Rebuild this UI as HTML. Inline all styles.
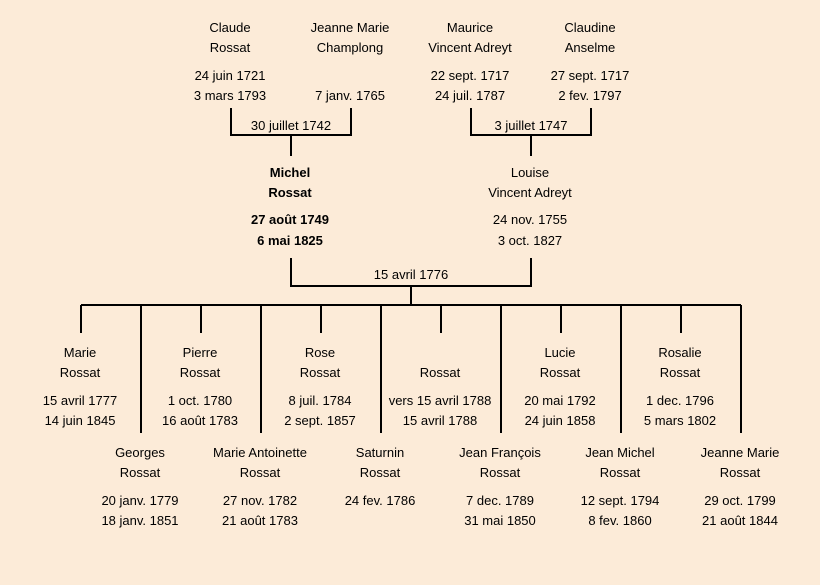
<!DOCTYPE html>
<html><head><meta charset="utf-8"><style>
html,body{margin:0;padding:0;background:#fcebd8;}
svg{display:block}
text{font-family:"Liberation Sans",sans-serif;font-size:13px;fill:#000;text-anchor:middle;dominant-baseline:middle}
.b{font-weight:bold}
</style></head><body>
<svg width="820" height="585" viewBox="0 0 820 585">
<rect width="820" height="585" fill="#fcebd8"/>
<g stroke="#000" stroke-width="2" fill="none">
<path d="M231 108V135H351V108M291 135V156"/>
<path d="M471 108V135H591V108M531 135V156"/>
<path d="M291 258V286H531V258M411 286V305"/>
<path d="M81 305H741"/>
<path d="M81 305V333M201 305V333M321 305V333M441 305V333M561 305V333M681 305V333"/>
<path d="M141 305V433M261 305V433M381 305V433M501 305V433M621 305V433M741 305V433"/>
</g>
<g transform="translate(0,1.5)">
<text x="230" y="27">Claude</text><text x="230" y="47">Rossat</text><text x="230" y="75">24 juin 1721</text><text x="230" y="95">3 mars 1793</text>
<text x="350" y="27">Jeanne Marie</text><text x="350" y="47">Champlong</text><text x="350" y="95">7 janv. 1765</text>
<text x="470" y="27">Maurice</text><text x="470" y="47">Vincent Adreyt</text><text x="470" y="75">22 sept. 1717</text><text x="470" y="95">24 juil. 1787</text>
<text x="590" y="27">Claudine</text><text x="590" y="47">Anselme</text><text x="590" y="75">27 sept. 1717</text><text x="590" y="95">2 fev. 1797</text>
<text x="291" y="125">30 juillet 1742</text><text x="531" y="125">3 juillet 1747</text>
<text class="b" x="290" y="172">Michel</text><text class="b" x="290" y="192">Rossat</text><text class="b" x="290" y="219">27 août 1749</text><text class="b" x="290" y="240">6 mai 1825</text>
<text x="530" y="172">Louise</text><text x="530" y="192">Vincent Adreyt</text><text x="530" y="219">24 nov. 1755</text><text x="530" y="240">3 oct. 1827</text>
<text x="411" y="274">15 avril 1776</text>
<text x="80" y="352">Marie</text><text x="80" y="372">Rossat</text><text x="80" y="400">15 avril 1777</text><text x="80" y="420">14 juin 1845</text>
<text x="200" y="352">Pierre</text><text x="200" y="372">Rossat</text><text x="200" y="400">1 oct. 1780</text><text x="200" y="420">16 août 1783</text>
<text x="320" y="352">Rose</text><text x="320" y="372">Rossat</text><text x="320" y="400">8 juil. 1784</text><text x="320" y="420">2 sept. 1857</text>
<text x="440" y="372">Rossat</text><text x="440" y="400">vers 15 avril 1788</text><text x="440" y="420">15 avril 1788</text>
<text x="560" y="352">Lucie</text><text x="560" y="372">Rossat</text><text x="560" y="400">20 mai 1792</text><text x="560" y="420">24 juin 1858</text>
<text x="680" y="352">Rosalie</text><text x="680" y="372">Rossat</text><text x="680" y="400">1 dec. 1796</text><text x="680" y="420">5 mars 1802</text>
<text x="140" y="452">Georges</text><text x="140" y="472">Rossat</text><text x="140" y="500">20 janv. 1779</text><text x="140" y="520">18 janv. 1851</text>
<text x="260" y="452">Marie Antoinette</text><text x="260" y="472">Rossat</text><text x="260" y="500">27 nov. 1782</text><text x="260" y="520">21 août 1783</text>
<text x="380" y="452">Saturnin</text><text x="380" y="472">Rossat</text><text x="380" y="500">24 fev. 1786</text>
<text x="500" y="452">Jean François</text><text x="500" y="472">Rossat</text><text x="500" y="500">7 dec. 1789</text><text x="500" y="520">31 mai 1850</text>
<text x="620" y="452">Jean Michel</text><text x="620" y="472">Rossat</text><text x="620" y="500">12 sept. 1794</text><text x="620" y="520">8 fev. 1860</text>
<text x="740" y="452">Jeanne Marie</text><text x="740" y="472">Rossat</text><text x="740" y="500">29 oct. 1799</text><text x="740" y="520">21 août 1844</text>
</g>
</svg>
</body></html>
